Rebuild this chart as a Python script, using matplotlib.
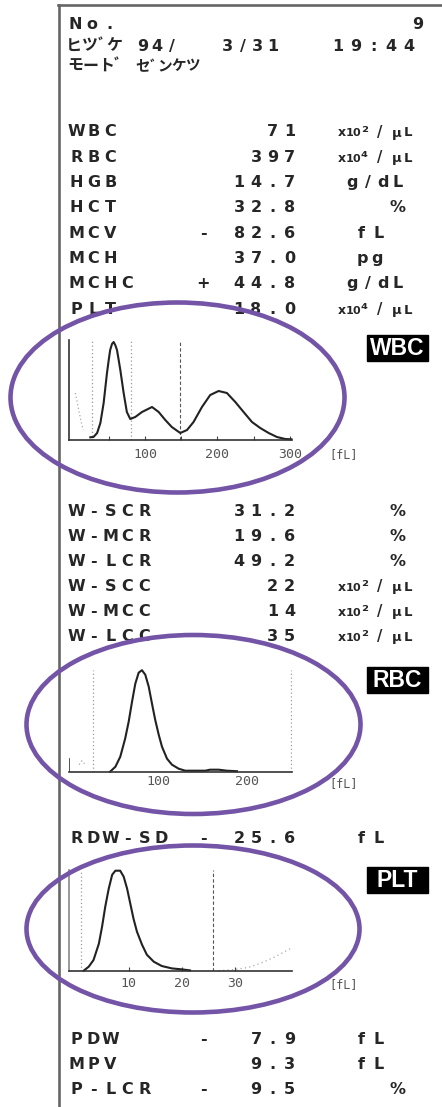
import matplotlib.pyplot as plt
from matplotlib.patches import Ellipse, Rectangle

# ---- printout text ----
sample_no = "9"
date_parts = ["94/", "3/31", "19:44"]
date_label = "ヒツﾞケ"
mode_label = "モートﾞ"
mode_value = "セﾞンケツ"

cbc_names = ["WBC", "RBC", "HGB", "HCT", "MCV", "MCH", "MCHC", "PLT"]
cbc_flags = ["", "", "", "", "-", "", "+", ""]
cbc_values = ["71", "397", "14.7", "32.8", "82.6", "37.0", "44.8", "18.0"]
cbc_units = ["x10²/μL", "x10⁴/μL", "g/dL", "%", "fL", "pg", "g/dL", "x10⁴/μL"]

diff_names = ["W-SCR", "W-MCR", "W-LCR", "W-SCC", "W-MCC", "W-LCC"]
diff_values = ["31.2", "19.6", "49.2", "22", "14", "35"]
diff_units = ["%", "%", "%", "x10²/μL", "x10²/μL", "x10²/μL"]

rdw_name, rdw_flag, rdw_value, rdw_unit = "RDW-SD", "-", "25.6", "fL"

plt_names = ["PDW", "MPV", "P-LCR"]
plt_flags = ["-", "", "-"]
plt_values = ["7.9", "9.3", "9.5"]
plt_units = ["fL", "fL", "%"]

# ---- histograms (volume fL, relative count) ----
wbc_fl = [24.6, 29, 34, 38.5, 43, 47.6, 50, 52, 54.5, 56.8, 59, 61.4, 63.5, 66, 70.6, 75,
          79.7, 86.6, 95.9, 109.7, 118.9, 128, 137, 148.7, 158, 167, 178.6, 190, 201.6,
          213, 224.6, 236, 247.6, 259, 270.6, 282, 293.5, 302]
wbc_count = [2.7, 3, 7, 17, 37, 67, 80, 90, 96, 98, 95, 90, 81, 70, 47, 28,
             21, 23, 28, 33, 28, 20, 13, 7, 10, 18, 33, 45, 49,
             47, 38, 28, 18, 12, 7, 3, 1, 0.7]
wbc_noise_fl = [4, 7, 10, 13, 15]
wbc_noise_count = [47, 36, 25, 15, 10]
wbc_dotted = [27, 81]
wbc_dashed = [148]

rbc_fl = [45, 51, 56.5, 62, 66, 69.8, 73.5, 77.3, 81, 84.8, 88.7, 92.4, 96, 100, 103.7,
          109.4, 115, 122.6, 130, 152.8, 158, 168, 177, 188.6]
rbc_count = [0, 5, 15, 33, 50, 70, 88, 99, 101.5, 97, 85, 68, 52, 37, 25,
             13, 7, 3, 1, 1, 2, 2, 1, 0.5]
rbc_noise_fl = [10, 13, 16]
rbc_noise_count = [7, 11, 8]
rbc_dotted = [26, 250]

plat_fl = [1.55, 2.5, 3.4, 4.4, 5.0, 5.6, 6.25, 6.9, 7.5, 8.4, 9.06, 9.7, 10.3, 10.9,
           11.55, 12.5, 13.4, 14.7, 16.2, 18.1, 20, 21.5]
plat_count = [0, 4, 10.7, 27, 44, 64, 82, 96, 100, 100, 94, 82, 67, 52,
              39, 26, 16, 9, 4.7, 2.3, 1.3, 0.3]
plat_tail_fl = [26.9, 30, 32.5, 35, 37.5, 40.3]
plat_tail_count = [0, 1.3, 3.3, 8, 14, 22]
plat_dotted = [1]
plat_dashed = [25.9]

W, H = 442, 1107
INK = '#262626'
PURPLE = '#7354a6'

fig = plt.figure(figsize=(W / 100, H / 100), dpi=100)
ax = fig.add_axes([0, 0, 1, 1])
ax.set_xlim(0, W)
ax.set_ylim(H, 0)
ax.axis('off')

# paper border
ax.plot([58.5, 58.5], [4.5, H], color='#666666', lw=1.9)
ax.plot([57.5, W], [5.3, 5.3], color='#666666', lw=1.9)


def mono(x0, y, s, pitch, size=11.5, color=INK):
    # one glyph per printer cell, y is the row centre
    for i, ch in enumerate(s):
        if ch != ' ':
            ax.text(x0 + pitch * (i + 0.5), y + 6, ch, ha='center', va='baseline',
                    fontsize=size, color=color, family='DejaVu Sans', fontweight='bold')


def kana(x0, y, s, wide, narrow, size):
    x = x0
    for ch in s:
        step = narrow if ch == 'ﾞ' else wide
        ax.text(x + step / 2, y + 5.5, ch, ha='center', va='baseline', fontsize=size,
                color=INK, family=['Noto Sans CJK JP', 'DejaVu Sans'], fontweight='bold')
        x += step


def unit(y, u):
    if u.startswith('x10'):
        offs = [5, 13, 19.5, 27.5, 43, 60, 71]
        sizes = [9, 8, 8, 11.5, 10.5, 9.5, 9.5]
        for ch, dx, fs in zip(u, offs, sizes):
            ax.text(337 + dx, y + 6, ch, ha='center', va='baseline', fontsize=fs,
                    color=INK, family='DejaVu Sans', fontweight='bold')
    elif u == '%':
        mono(388.6, y, u, 16.8)
    elif u == 'g/dL':
        mono(344.5, y, u, 15.3)
    elif u == 'fL':
        mono(352.7, y, u, 17.5)
    else:
        mono(355, y, u, 15)


def row(y, name, flag, value, u):
    mono(68, y, name, 17)
    if flag:
        mono(194.6, y, flag, 16.8)
    mono(298 - 16.8 * len(value), y, value, 16.8)
    unit(y, u)


# header
mono(66.5, 23, "No.", 17)
mono(409.6, 23, sample_no, 16.8)
kana(66.25, 45, date_label, 15.5, 9, 11.5)
mono(135, 45, date_parts[0], 14.75)
mono(220, 45, date_parts[1], 15)
mono(329, 45, date_parts[2], 17.75)
kana(67.25, 65, mode_label, 15.5, 9, 11.5)
kana(136, 65, mode_value, 14, 7.5, 10.5)

for i in range(len(cbc_names)):
    row(130.5 + 25.3 * i, cbc_names[i], cbc_flags[i], cbc_values[i], cbc_units[i])
for i in range(len(diff_names)):
    row(510 + 25 * i, diff_names[i], "", diff_values[i], diff_units[i])
row(837, rdw_name, rdw_flag, rdw_value, rdw_unit)
for i in range(len(plt_names)):
    row(1038 + 25 * i, plt_names[i], plt_flags[i], plt_values[i], plt_units[i])


def tag(yc, s):
    ax.add_patch(Rectangle((367, yc - 13), 61, 26, color='black'))
    ax.text(397.5, yc + 0.5, s, ha='center', va='center', fontsize=16.5,
            color='white', fontweight='bold', family='Liberation Sans')


def hist_axes(left, top, right, bottom, xlim, ylim, pad):
    a = fig.add_axes([left / W, 1 - bottom / H, (right - left) / W, (bottom - top) / H])
    a.set_xlim(*xlim)
    a.set_ylim(*ylim)
    a.patch.set_alpha(0)
    for s in ('top', 'right'):
        a.spines[s].set_visible(False)
    for s in ('left', 'bottom'):
        a.spines[s].set_color('#333333')
        a.spines[s].set_linewidth(1.2)
    a.set_yticks([])
    a.tick_params(axis='x', direction='in', length=3, width=0.8, color='#444444',
                  labelsize=9.5, labelcolor='#555555', pad=pad,
                  labelfontfamily='DejaVu Sans Mono')
    return a


def fl_label(yc):
    ax.text(344, yc, "[fL]", ha='center', va='center', fontsize=8.5, color='#555555',
            family='DejaVu Sans Mono')


dot_style = dict(color='#9a9a9a', lw=0.9, ls=(0, (1, 2)))
dash_style = dict(color='#555555', lw=0.8, ls=(0, (3, 2)))
curve_style = dict(color='#222222', lw=1.5, clip_on=False)

# WBC histogram
aw = hist_axes(68.7, 340, 292, 440, (-5.2, 302.8), (0, 100), 5.6)
aw.set_xticks([50, 100, 150, 200, 250, 300], ['', '100', '', '200', '', '300'])
for v in wbc_dotted:
    aw.axvline(v, **dot_style)
for v in wbc_dashed:
    aw.axvline(v, **dash_style)
aw.plot(wbc_noise_fl, wbc_noise_count, color='#aaaaaa', lw=0.9, ls=(0, (1, 2)))
aw.plot(wbc_fl, wbc_count, **curve_style)
tag(348, "WBC")
fl_label(455)

# RBC histogram
ar = hist_axes(68.7, 670, 292, 771.7, (-1.9, 250.9), (0, 101.7), 2.2)
ar.spines['left'].set_visible(False)
ar.axvline(-1.9, ymax=0.12, color='#333333', lw=1.2)
ar.set_xticks([100, 200], ['100', '200'])
ar.tick_params(axis='x', length=0)
for v in rbc_dotted:
    ar.axvline(v, **dot_style)
ar.plot(rbc_noise_fl, rbc_noise_count, color='#aaaaaa', lw=0.9, ls=(0, (1, 2)))
ar.plot(rbc_fl, rbc_count, **curve_style)
tag(680, "RBC")
fl_label(784)

# PLT histogram
ap = hist_axes(68.7, 870, 292, 970.7, (-1.26, 40.64), (0, 100.7), 4.7)
ap.spines['left'].set_color('#888888')
ap.set_xticks([10, 20, 30], ['10', '20', '30'])
for v in plat_dotted:
    ap.axvline(v, **dot_style)
for v in plat_dashed:
    ap.axvline(v, **dash_style)
ap.plot(plat_fl, plat_count, **curve_style)
ap.plot(plat_tail_fl, plat_tail_count, color='#aaaaaa', lw=0.9, ls=(0, (1, 2.5)), clip_on=False)
tag(880, "PLT")
fl_label(985)

# purple highlight rings on top of everything
top = fig.add_axes([0, 0, 1, 1])
top.set_xlim(0, W)
top.set_ylim(H, 0)
top.axis('off')
for cx, cy, w, h in [(177.5, 397.5, 334, 190), (193.5, 724.5, 334, 179), (193, 929, 333, 167)]:
    top.add_patch(Ellipse((cx, cy), w, h, fill=False, edgecolor=PURPLE, lw=3.3))

fig.savefig('out.png', dpi=100)
